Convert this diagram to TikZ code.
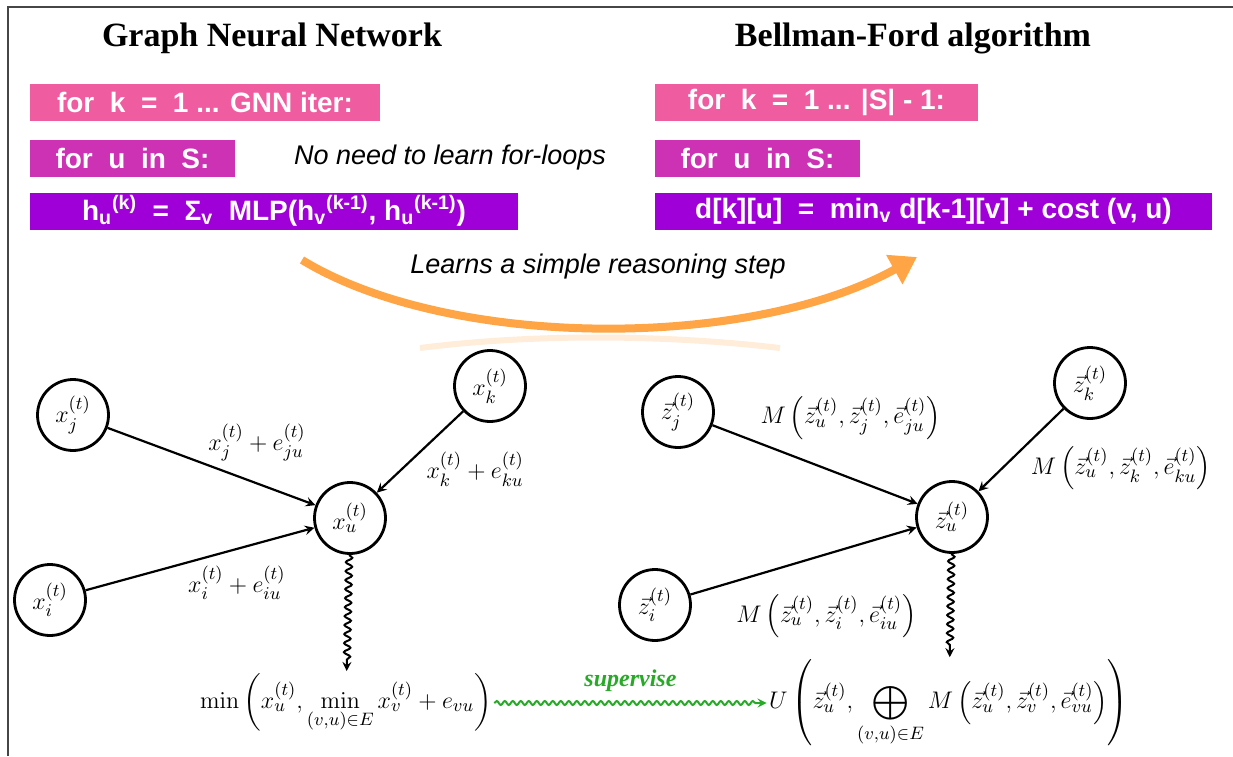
\documentclass[tikz,border=0pt]{standalone}
\usepackage[no-math]{fontspec}
\usepackage{amsmath}
\setmainfont{Liberation Serif}
\setsansfont{Liberation Sans}
\usetikzlibrary{arrows.meta,decorations.pathmorphing}

\definecolor{barpink}{RGB}{240,92,160}
\definecolor{barmagenta}{RGB}{205,50,180}
\definecolor{barpurple}{RGB}{160,0,215}
\definecolor{learnorange}{RGB}{255,165,70}
\definecolor{supgreen}{RGB}{40,170,40}
\definecolor{framegray}{RGB}{70,70,70}

\newcommand{\titlefont}{\fontsize{17}{20}\selectfont\bfseries}
\newcommand{\barfont}{\fontsize{14}{16}\selectfont\sffamily\bfseries}
\newcommand{\notefont}{\fontsize{13.5}{16}\selectfont\sffamily\itshape}
\newcommand{\mathfont}{\fontsize{12.5}{15}\selectfont}
\newcommand{\subsup}[2]{\textsubscript{#1}\textsuperscript{#2}}

\begin{document}
\begin{tikzpicture}[x=0.5pt, y=-0.5pt,
    bar/.style={fill=#1, text=white, font=\barfont, minimum height=18.5pt, inner sep=0pt},
    title/.style={font=\titlefont},
    note/.style={font=\notefont},
    vertex/.style={draw, circle, line width=1.4pt, minimum size=35.5pt, inner sep=0pt, font=\mathfont},
    mathlabel/.style={font=\mathfont, inner sep=1pt},
    arrow/.style={->, line width=1.1pt, >=stealth},
    wavy/.style={->, line width=1pt, >=stealth, decorate, decoration={snake, amplitude=1.6pt, segment length=4.5pt, post length=5pt}}
]
    \useasboundingbox (0,0) rectangle (1233,756);
    \draw[framegray, line width=1.4pt] (8,756) -- (8,7) -- (1233,7);

    \node[title] (gnntitle) at (272,38) {Graph Neural Network};
    \node[title] (bftitle) at (913,38) {Bellman-Ford algorithm};

    \node[bar=barpink, minimum width=175pt] (gnnloopk) at (205,102.5) {for~~k~~=~~1 ... GNN iter:};
    \node[bar=barmagenta, minimum width=102.5pt] (gnnloopu) at (132.5,158) {for~~u~~in~~S:};
    \node[bar=barpurple, minimum width=244pt] (gnnstep) at (274,211) {h\subsup{u}{(k)}~~=~~Σ\textsubscript{v}~~MLP(h\subsup{v}{(k-1)}, h\subsup{u}{(k-1)})};
    \node[note] (loopnote) at (450,158) {No need to learn for-loops};

    \node[bar=barpink, minimum width=161.5pt] (bfloopk) at (816.5,102.5) {for~~k~~=~~1 ... |S| - 1:};
    \node[bar=barmagenta, minimum width=102.5pt] (bfloopu) at (757.5,158) {for~~u~~in~~S:};
    \node[bar=barpurple, minimum width=278.5pt] (bfstep) at (933.5,211) {d[k][u]~~=~~min\textsubscript{v} d[k-1][v] + cost (v, u)};

    \coordinate (learnstart) at (302,260);
    \coordinate (learnend) at (917,257);
    \draw[learnorange, line width=4pt, -{Triangle[length=13pt,width=16pt]}] (learnstart) .. controls (450,350) and (750,350) .. (learnend);
    \draw[learnorange, line width=3pt, opacity=0.2] (420,348) .. controls (530,334) and (660,334) .. (780,348);
    \node[note] (learnnote) at (598,267) {Learns a simple reasoning step};

    \node[vertex] (xj) at (73,415) {$x_j^{(t)}$};
    \node[vertex] (xk) at (490,386) {$x_k^{(t)}$};
    \node[vertex] (xu) at (350,518) {$x_u^{(t)}$};
    \node[vertex] (xi) at (50,600) {$x_i^{(t)}$};

    \node[vertex] (zj) at (678,412) {$\vec{z}_j^{(t)}$};
    \node[vertex] (zk) at (1090,383) {$\vec{z}_k^{(t)}$};
    \node[vertex] (zu) at (952,517) {$\vec{z}_u^{(t)}$};
    \node[vertex] (zi) at (655,605) {$\vec{z}_i^{(t)}$};

    \draw[arrow] (xj) -- (xu) node[pos=0.47, above right, mathlabel] {$x_j^{(t)} + e_{ju}^{(t)}$};
    \draw[arrow] (xk) -- (xu) node[pos=0.46, below right, mathlabel] {$x_k^{(t)} + e_{ku}^{(t)}$};
    \draw[arrow] (xi) -- (xu) node[pos=0.435, below right, mathlabel] {$x_i^{(t)} + e_{iu}^{(t)}$};

    \draw[arrow] (zj) -- (zu) node[pos=0.22, above right, mathlabel] {$M\left(\vec{z}_u^{(t)}, \vec{z}_j^{(t)}, \vec{e}_{ju}^{(t)}\right)$};
    \draw[arrow] (zk) -- (zu) node[pos=0.42, below right, mathlabel] {$M\left(\vec{z}_u^{(t)}, \vec{z}_k^{(t)}, \vec{e}_{ku}^{(t)}\right)$};
    \draw[arrow] (zi) -- (zu) node[pos=0.19, below right, yshift=-5pt, mathlabel] {$M\left(\vec{z}_u^{(t)}, \vec{z}_i^{(t)}, \vec{e}_{iu}^{(t)}\right)$};

    \node[mathlabel] (gnnout) at (346,703) {$\displaystyle \min\left(x_u^{(t)}, \min_{(v,u)\in E} x_v^{(t)} + e_{vu}\right)$};
    \node[mathlabel] (bfout) at (949,703) {$\displaystyle U\left(\vec{z}_u^{(t)}, \bigoplus_{(v,u)\in E} M\left(\vec{z}_u^{(t)}, \vec{z}_v^{(t)}, \vec{e}_{vu}^{(t)}\right)\right)$};

    \draw[wavy] (xu) -- (gnnout);
    \draw[wavy] (zu) -- (bfout);
    \draw[wavy, supgreen, decoration={amplitude=1pt, segment length=4pt}] (gnnout) -- (bfout) node[midway, above=2pt, font=\fontsize{12}{14}\selectfont\bfseries\itshape, text=supgreen] {supervise};
\end{tikzpicture}
\end{document}
